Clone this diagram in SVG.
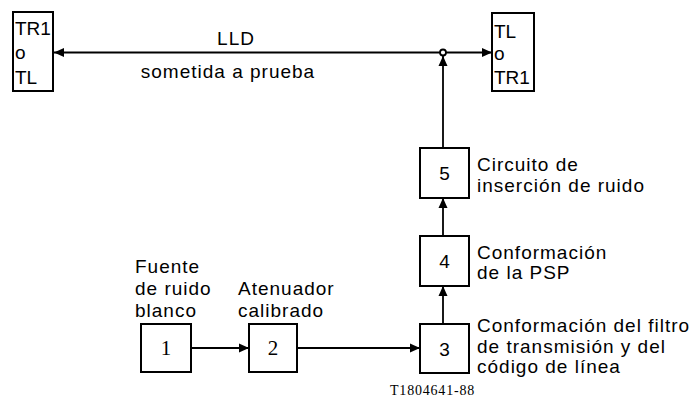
<svg xmlns="http://www.w3.org/2000/svg" width="699" height="405" viewBox="0 0 699 405">
<defs>
<style>
.box{fill:#fff;stroke:#000;stroke-width:2}
.ln{fill:none;stroke:#000;stroke-width:1.8}
.t{font-family:"Liberation Sans",Arial,sans-serif;font-size:19px;letter-spacing:1px;fill:#000}
.n{font-family:"Liberation Sans",Arial,sans-serif;font-size:19px;fill:#000;text-anchor:middle}
.ns{font-family:"Liberation Serif","Times New Roman",serif;font-size:21px;fill:#000;text-anchor:middle}
</style>
<marker id="ah" viewBox="0 0 10 10" refX="10" refY="5" markerWidth="10" markerHeight="10" markerUnits="userSpaceOnUse" orient="auto-start-reverse">
<path d="M0,0.5 L10,5 L0,9.5 Z" fill="#000"/>
</marker>
</defs>
<rect width="699" height="405" fill="#fff"/>
<g id="connectors">
<line class="ln" x1="54" y1="52.5" x2="440" y2="52.5" marker-start="url(#ah)"/>
<line class="ln" x1="446" y1="52.5" x2="492" y2="52.5" marker-end="url(#ah)"/>
<circle cx="443" cy="52.5" r="3" fill="none" stroke="#000" stroke-width="1.8"/>
<line class="ln" x1="443" y1="148" x2="443" y2="56" marker-end="url(#ah)"/>
<line class="ln" x1="443" y1="236" x2="443" y2="198" marker-end="url(#ah)"/>
<line class="ln" x1="443" y1="324" x2="443" y2="286" marker-end="url(#ah)"/>
<line class="ln" x1="191" y1="348" x2="249" y2="348" marker-end="url(#ah)"/>
<line class="ln" x1="297" y1="348" x2="420" y2="348" marker-end="url(#ah)"/>
</g>
<g id="tr1-left">
<rect class="box" x="13" y="12" width="40" height="79"/>
<text class="t" x="15" y="35" style="letter-spacing:0">TR1</text>
<text class="t" x="15" y="59" style="letter-spacing:0">o</text>
<text class="t" x="15" y="84" style="letter-spacing:0">TL</text>
</g>
<g id="tl-right">
<rect class="box" x="492" y="13" width="42" height="78"/>
<text class="t" x="494" y="38" style="letter-spacing:0">TL</text>
<text class="t" x="494" y="60" style="letter-spacing:0">o</text>
<text class="t" x="494" y="84" style="letter-spacing:0">TR1</text>
</g>
<g id="lld">
<text class="t" x="236" y="45" text-anchor="middle">LLD</text>
<text class="t" x="228" y="78" text-anchor="middle">sometida a prueba</text>
</g>
<g id="node5">
<rect class="box" x="420" y="148" width="49" height="50"/>
<text class="n" x="444.5" y="180">5</text>
<text class="t" x="477" y="171">Circuito de</text>
<text class="t" x="477" y="192">inserción de ruido</text>
</g>
<g id="node4">
<rect class="box" x="420" y="236" width="49" height="50"/>
<text class="n" x="444.5" y="268">4</text>
<text class="t" x="477" y="259">Conformación</text>
<text class="t" x="477" y="279">de la PSP</text>
</g>
<g id="node3">
<rect class="box" x="420" y="324" width="49" height="49"/>
<text class="n" x="444.5" y="356">3</text>
<text class="t" x="477" y="332">Conformación del filtro</text>
<text class="t" x="477" y="353">de transmisión y del</text>
<text class="t" x="477" y="373">código de línea</text>
</g>
<g id="node1">
<rect class="box" x="141" y="324" width="50" height="48"/>
<text class="ns" x="166" y="355">1</text>
<text class="t" x="135" y="273">Fuente</text>
<text class="t" x="135" y="295">de ruido</text>
<text class="t" x="135" y="317">blanco</text>
</g>
<g id="node2">
<rect class="box" x="249" y="324" width="48" height="48"/>
<text class="ns" x="273" y="355">2</text>
<text class="t" x="238" y="295">Atenuador</text>
<text class="t" x="238" y="317">calibrado</text>
</g>
<text x="390" y="395" font-family="Liberation Serif, 'Times New Roman', serif" font-size="14" letter-spacing="0.8">T1804641-88</text>
</svg>
